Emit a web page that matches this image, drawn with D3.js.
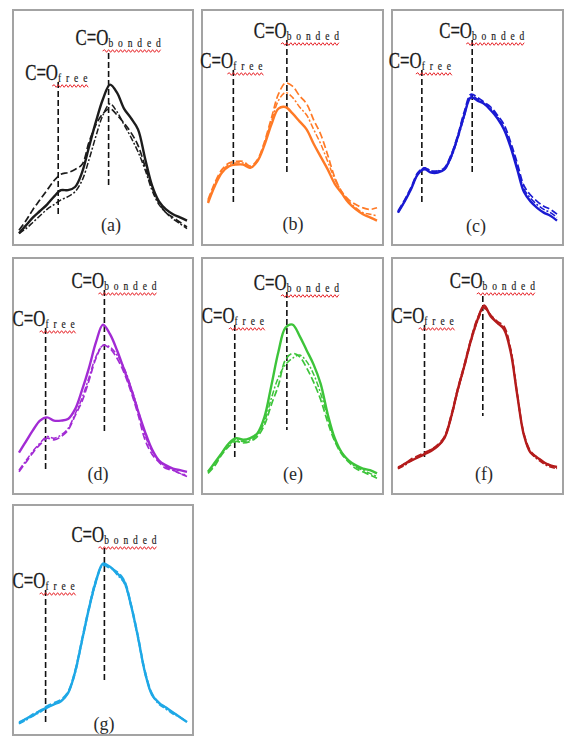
<!DOCTYPE html>
<html>
<head>
<meta charset="utf-8">
<title>C=O free / bonded bands</title>
<script src="https://d3js.org/d3.v7.min.js"></script>
<style>
  body { margin: 0; background: #fff; }
  svg { display: block; }
  .frame { fill: #fff; stroke: #a3a3a3; stroke-width: 2; }
  .marker { stroke: #111; stroke-width: 1.6; stroke-dasharray: 6,3; }
  .band { font-family: "Liberation Serif", "Times New Roman", serif; fill: #1a1a1a; stroke: #1a1a1a; stroke-width: 0.3; }
  .band .main { font-size: 23px; }
  .band .sub { font-size: 13px; letter-spacing: 6.7px; stroke-width: 0.2; }
  .tag { font-family: "Liberation Serif", "Times New Roman", serif; font-size: 18px; fill: #2a2a2a; text-anchor: middle; }
  .squiggle { fill: none; stroke: #e8262b; stroke-width: 1; }
</style>
</head>
<body>
<div id="chart"></div>
<script>
// wavenumber grid (cm-1), same for every panel
var wavenumbers = [1780, 1775, 1770, 1765, 1760, 1755, 1750, 1745, 1740, 1735, 1730, 1725, 1720,
                   1715, 1710, 1705, 1700, 1695, 1690, 1685, 1680, 1675, 1670, 1665, 1660];

var panelTags = ["(a)", "(b)", "(c)", "(d)", "(e)", "(f)", "(g)"];
var freeBand = [1752, 1762, 1762, 1761, 1761, 1760, 1761];
var bondedBand = [1716, 1724, 1724, 1719, 1724, 1716, 1719];

// absorbance, three traces per panel
var absA1 = [0.01,0.06,0.11,0.15,0.19,0.24,0.28,0.28,0.30,0.39,0.55,0.71,0.85,0.94,0.89,0.79,0.73,0.66,0.48,0.31,0.21,0.16,0.13,0.11,0.09];
var absA2 = [0.03,0.09,0.16,0.22,0.28,0.34,0.38,0.39,0.41,0.44,0.58,0.69,0.76,0.79,0.75,0.70,0.64,0.56,0.43,0.30,0.20,0.14,0.11,0.08,0.05];
var absA3 = [0.01,0.04,0.08,0.12,0.16,0.19,0.22,0.24,0.27,0.34,0.47,0.62,0.75,0.82,0.77,0.69,0.61,0.52,0.41,0.28,0.19,0.14,0.10,0.07,0.04];

var absB1 = [0.20,0.31,0.39,0.43,0.44,0.44,0.42,0.46,0.56,0.69,0.79,0.80,0.76,0.71,0.66,0.57,0.49,0.41,0.32,0.26,0.20,0.16,0.13,0.11,0.09];
var absB2 = [0.22,0.33,0.41,0.45,0.46,0.46,0.43,0.47,0.58,0.73,0.88,0.95,0.93,0.87,0.82,0.72,0.63,0.50,0.36,0.27,0.22,0.19,0.17,0.16,0.17];
var absB3 = [0.21,0.32,0.40,0.44,0.45,0.45,0.42,0.46,0.57,0.71,0.84,0.89,0.86,0.80,0.75,0.66,0.57,0.46,0.35,0.27,0.21,0.17,0.14,0.13,0.12];

var absC1 = [0.14,0.21,0.29,0.38,0.41,0.39,0.39,0.41,0.49,0.61,0.75,0.86,0.84,0.82,0.78,0.73,0.66,0.55,0.41,0.27,0.21,0.17,0.14,0.12,0.09];
var absC2 = [0.15,0.22,0.30,0.39,0.42,0.40,0.40,0.42,0.50,0.62,0.77,0.88,0.86,0.83,0.80,0.75,0.69,0.58,0.45,0.31,0.25,0.21,0.18,0.16,0.13];
var absC3 = [0.14,0.21,0.29,0.38,0.42,0.40,0.40,0.41,0.48,0.60,0.74,0.87,0.85,0.82,0.79,0.74,0.67,0.56,0.43,0.29,0.23,0.19,0.16,0.14,0.11];

var absD1 = [0.19,0.26,0.33,0.39,0.41,0.39,0.39,0.40,0.46,0.58,0.72,0.88,0.99,0.93,0.83,0.71,0.59,0.45,0.32,0.21,0.14,0.11,0.09,0.08,0.07];
var absD2 = [0.07,0.13,0.19,0.24,0.28,0.27,0.29,0.33,0.42,0.51,0.64,0.78,0.86,0.84,0.78,0.69,0.57,0.43,0.27,0.18,0.13,0.09,0.08,0.06,0.04];
var absD3 = [0.08,0.14,0.20,0.25,0.29,0.28,0.30,0.34,0.43,0.53,0.66,0.79,0.86,0.85,0.80,0.72,0.60,0.46,0.30,0.20,0.14,0.10,0.08,0.06,0.05];

var absE1 = [0.07,0.13,0.19,0.25,0.28,0.27,0.28,0.31,0.41,0.61,0.82,0.97,0.99,0.92,0.83,0.74,0.62,0.43,0.28,0.19,0.14,0.11,0.09,0.08,0.06];
var absE2 = [0.06,0.11,0.18,0.23,0.26,0.25,0.26,0.29,0.36,0.49,0.61,0.77,0.81,0.79,0.72,0.63,0.52,0.38,0.26,0.18,0.13,0.09,0.07,0.05,0.03];
var absE3 = [0.07,0.12,0.19,0.24,0.27,0.26,0.27,0.30,0.38,0.53,0.66,0.74,0.78,0.80,0.76,0.68,0.56,0.41,0.27,0.19,0.14,0.10,0.08,0.06,0.04];

var absF1 = [0.09,0.12,0.14,0.16,0.18,0.20,0.23,0.28,0.41,0.58,0.73,0.89,1.02,1.11,1.04,1.00,0.96,0.82,0.55,0.30,0.19,0.16,0.13,0.11,0.10];
var absF2 = [0.10,0.12,0.15,0.17,0.19,0.21,0.24,0.29,0.42,0.59,0.74,0.90,1.03,1.10,1.05,1.01,0.98,0.84,0.56,0.31,0.20,0.16,0.13,0.11,0.09];
var absF3 = [0.09,0.11,0.14,0.16,0.18,0.21,0.23,0.28,0.40,0.57,0.72,0.88,1.01,1.09,1.05,1.00,0.97,0.83,0.55,0.30,0.19,0.15,0.12,0.10,0.09];

var absG1 = [0.04,0.07,0.09,0.12,0.14,0.16,0.18,0.23,0.36,0.56,0.76,0.93,1.04,1.02,0.98,0.93,0.78,0.58,0.36,0.22,0.17,0.14,0.11,0.08,0.05];
var absG2 = [0.05,0.07,0.10,0.12,0.15,0.17,0.19,0.24,0.37,0.57,0.77,0.94,1.03,1.01,0.99,0.94,0.79,0.59,0.37,0.23,0.17,0.14,0.11,0.08,0.05];
var absG3 = [0.04,0.06,0.09,0.11,0.14,0.16,0.18,0.23,0.35,0.55,0.75,0.92,1.03,1.02,0.97,0.92,0.77,0.57,0.35,0.22,0.16,0.13,0.10,0.08,0.05];

var traces = [[absA1, absA2, absA3], [absB1, absB2, absB3], [absC1, absC2, absC3],
              [absD1, absD2, absD3], [absE1, absE2, absE3], [absF1, absF2, absF3],
              [absG1, absG2, absG3]];

// layout of the seven boxes (pixels), kept apart from the data
var boxes = [
  { x: 13,  y: 10,  w: 180, h: 235, color: "#1c1c1c", bondY: 35, freeY: 70, bondLine: [43, 175], freeLine: [72, 207], tagX: 98, tagY: 221 },
  { x: 202, y: 10,  w: 181, h: 235, color: "#ff7a26", bondY: 28, freeY: 58, bondLine: [30, 163], freeLine: [60, 193], tagX: 91, tagY: 220 },
  { x: 392, y: 10,  w: 171, h: 235, color: "#1a1ad2", bondY: 28, freeY: 58, bondLine: [30, 163], freeLine: [60, 193], tagX: 84, tagY: 222 },
  { x: 13,  y: 258, w: 180, h: 236, color: "#a22bd4", bondY: 30, freeY: 68, bondLine: [32, 175], freeLine: [70, 212], tagX: 85, tagY: 222 },
  { x: 202, y: 258, w: 181, h: 236, color: "#3dc43a", bondY: 32, freeY: 65, bondLine: [34, 172], freeLine: [67, 202], tagX: 91, tagY: 222 },
  { x: 392, y: 258, w: 171, h: 236, color: "#b41c1c", bondY: 30, freeY: 65, bondLine: [38, 158], freeLine: [67, 200], tagX: 92, tagY: 222 },
  { x: 13,  y: 505, w: 180, h: 230, color: "#1fa8e6", bondY: 37, freeY: 83, bondLine: [43, 178], freeLine: [85, 218], tagX: 91, tagY: 225 }
];

var traceStyles = [
  { width: 2.4, dash: null },
  { width: 1.7, dash: "7,3" },
  { width: 1.5, dash: "6,2,2,2" }
];

var svg = d3.select("#chart").append("svg")
    .attr("width", 566)
    .attr("height", 737);

function squiggle(x0, x1, y) {
  var p = "M" + x0 + "," + y;
  var up = true;
  for (var x = x0 + 2; x <= x1; x += 2) {
    p += "L" + x + "," + (up ? y - 1.3 : y + 1.3);
    up = !up;
  }
  return p;
}

// C=O label with its subscript (one text, squeezed sideways like the scan) and the red underline
function bandLabel(g, x, y, sub, subWidth) {
  var t = g.append("text").attr("class", "band")
    .attr("transform", "translate(" + (x - 33) + "," + y + ") scale(0.73,1)");
  t.append("tspan").attr("class", "main").text("C=O");
  t.append("tspan").attr("class", "sub").attr("dy", 2).text(sub);
  g.append("path").attr("class", "squiggle")
    .attr("d", squiggle(x - 6, x + subWidth, y + 6));
}

boxes.forEach(function (b, p) {
  var g = svg.append("g").attr("transform", "translate(" + b.x + "," + b.y + ")");

  g.append("rect").attr("class", "frame")
    .attr("x", 0).attr("y", 0).attr("width", b.w).attr("height", b.h);

  var x = d3.scaleLinear()
      .domain([d3.max(wavenumbers), d3.min(wavenumbers)])
      .range([6, b.w - 6]);
  var y = d3.scaleLinear()
      .domain([0, 1])
      .range([225, 65]);

  var line = d3.line()
      .x(function (d, i) { return x(wavenumbers[i]); })
      .y(function (d) { return y(d); })
      .curve(d3.curveCatmullRom.alpha(0.5));

  // dashed markers for the two carbonyl bands
  var fx = x(freeBand[p]);
  var bx = x(bondedBand[p]);
  g.append("line").attr("class", "marker")
    .attr("x1", fx).attr("x2", fx).attr("y1", b.freeLine[0]).attr("y2", b.freeLine[1]);
  g.append("line").attr("class", "marker")
    .attr("x1", bx).attr("x2", bx).attr("y1", b.bondLine[0]).attr("y2", b.bondLine[1]);

  traces[p].forEach(function (vals, k) {
    g.append("path")
      .datum(vals)
      .attr("fill", "none")
      .attr("stroke", b.color)
      .attr("stroke-width", traceStyles[k].width)
      .attr("stroke-dasharray", traceStyles[k].dash)
      .attr("stroke-linejoin", "round")
      .attr("d", line);
  });

  bandLabel(g, bx, b.bondY, "bonded", 52);
  bandLabel(g, fx, b.freeY, "free", 30);

  g.append("text").attr("class", "tag")
    .attr("x", b.tagX).attr("y", b.tagY)
    .text(panelTags[p]);
});
</script>
</body>
</html>
